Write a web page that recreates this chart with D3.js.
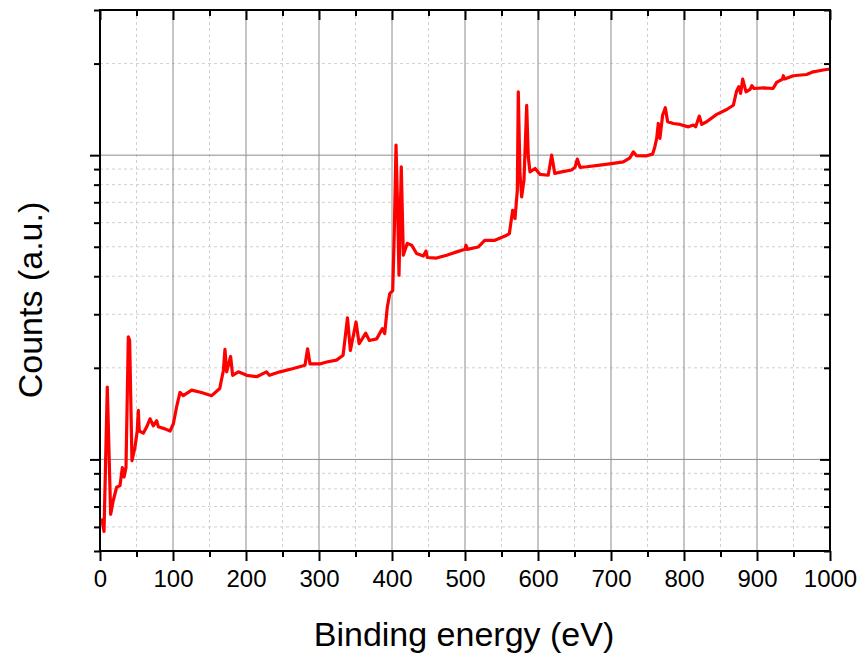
<!DOCTYPE html>
<html>
<head>
<meta charset="utf-8">
<script src="https://cdn.jsdelivr.net/npm/d3@7"></script>
<style>
  html, body { margin: 0; padding: 0; background: #fff; }
  svg { display: block; font-family: Arial, "Liberation Sans", sans-serif; }
</style>
</head>
<body>
<svg id="chart" width="868" height="659"></svg>
<script>
// XPS survey spectrum: binding energy (eV) and counts (arbitrary units)
const energy = [
  2.4, 5.5, 10, 14.6, 18, 22.8, 27.4, 30.6, 33, 35.6, 38.8, 40.6, 43.8, 48, 51, 52.5, 53.8,
  59.3, 64, 68.5, 73, 77.6, 80, 89, 96, 100.5, 105, 109.6, 114, 125.6, 139, 153, 164, 169,
  171.2, 173.5, 178.9, 181.7, 189.5, 201, 214.7, 228, 232, 246.6, 264.8, 280.8, 284.4, 287.7,
  301, 310.5, 324, 333, 339, 343, 350.7, 355, 364, 369, 379, 386.7, 390, 393.6, 397, 401,
  403.2, 405.5, 407.3, 409.6, 412.7, 415.5, 420.9, 426.9, 433.7, 442.9, 446.6, 448.4, 461,
  475, 488.6, 500, 501.4, 503, 518, 527, 541, 554.8, 560.7, 565.3, 568.5, 571.7, 573, 575.3,
  577.6, 580.8, 584.5, 586.7, 589, 596, 602.7, 614, 618.7, 623, 632.4, 646, 650.7, 653.8,
  657.5, 666.7, 685, 703, 716.9, 726, 730.6, 735, 748.9, 757, 760, 762.6, 764.8, 767, 770.8,
  774.4, 777.6, 785.4, 794.5, 806, 812.8, 816, 821, 824.2, 831, 844.8, 858.5, 867.6, 872,
  875, 877.6, 880.4, 885, 890.4, 893, 895.9, 908.7, 922, 926.9, 935, 936, 938, 949.7, 968,
  977, 990.8, 1000
];
const counts = [
  6.4, 5.8, 17.3, 6.6, 7.3, 8.1, 8.2, 9.4, 8.75, 9.4, 25.3, 24.6, 9.9, 11.0, 12.4, 14.5, 12.4,
  12.2, 12.8, 13.6, 12.9, 13.4, 12.8, 12.6, 12.4, 13.1, 14.9, 16.6, 16.2, 16.9, 16.6, 16.2, 17.1, 19.6,
  23.0, 19.4, 21.8, 18.9, 19.4, 18.9, 18.7, 19.4, 18.9, 19.4, 19.9, 20.4, 23.1, 20.6,
  20.6, 20.9, 21.2, 22.0, 29.2, 22.8, 28.3, 24.0, 26.0, 24.6, 24.9, 26.9, 25.9, 31.7, 35.1, 35.9,
  56.6, 107.9, 72.9, 40.3, 91.6, 46.9, 51.3, 50.6, 47.5, 46.6, 48.4, 46.1, 45.9,
  46.9, 48.1, 49.1, 50.6, 49.0, 49.9, 52.5, 52.5, 54.2, 55.2, 65.9, 61.9, 76.7, 161.6, 87.1,
  72.9, 82.8, 145.9, 98.6, 88.1, 90.4, 86.5, 85.9, 100, 87.1, 88.1, 89.4, 91.2, 97.1,
  91.2, 91.6, 92.7, 94.0, 95.1, 98.0, 102.5, 99.6, 99.5, 100.8, 106.4, 113.5, 127.1, 113.5, 135.6,
  143.2, 128.8, 127.1, 126.2, 123.9, 125.6, 123.9, 134.4, 126.2, 128.8, 136.2, 141.3, 145.9, 162.4,
  167.9, 159.6, 177.8, 161.5, 164.4, 169.1, 165.6, 166.3, 165.6, 173.4, 177.8, 182.4, 178, 182.4, 184.1,
  187.9, 190.5, 192
];
const xTicks = [0, 100, 200, 300, 400, 500, 600, 700, 800, 900, 1000];
const xMinor = [50, 150, 250, 350, 450, 550, 650, 750, 850, 950];
const yMajor = [10, 100];
const yMinor = [5, 6, 7, 8, 9, 20, 30, 40, 50, 60, 70, 80, 90, 200, 300];
const xTitle = "Binding energy (eV)";
const yTitle = "Counts (a.u.)";

const svg = d3.select("#chart");
const L = 100, R = 830, T = 10, B = 551;

const x = d3.scaleLinear().domain([0, 1000]).range([L, R]);
const y = d3.scaleLog().domain([5, 300]).range([B, T]);

// grid: dashed minor lines, solid major lines
const grid = svg.append("g");
grid.selectAll(".xmin").data(xMinor).join("line")
  .attr("x1", d => x(d)).attr("x2", d => x(d)).attr("y1", T).attr("y2", B)
  .attr("stroke", "#d0d0d0").attr("stroke-width", 1).attr("stroke-dasharray", "3,3");
grid.selectAll(".ymin").data(yMinor.filter(v => v > 5 && v < 300)).join("line")
  .attr("x1", L).attr("x2", R).attr("y1", d => y(d)).attr("y2", d => y(d))
  .attr("stroke", "#d0d0d0").attr("stroke-width", 1).attr("stroke-dasharray", "3,3");
grid.selectAll(".xmaj").data(xTicks.slice(1, -1)).join("line")
  .attr("x1", d => x(d)).attr("x2", d => x(d)).attr("y1", T).attr("y2", B)
  .attr("stroke", "#8c8c8c").attr("stroke-width", 1);
grid.selectAll(".ymaj").data(yMajor).join("line")
  .attr("x1", L).attr("x2", R).attr("y1", d => y(d)).attr("y2", d => y(d))
  .attr("stroke", "#8c8c8c").attr("stroke-width", 1);

// spectrum
const line = d3.line().x((d, i) => x(energy[i])).y((d, i) => y(counts[i]));
svg.append("path")
  .datum(counts)
  .attr("d", line)
  .attr("fill", "none")
  .attr("stroke", "#ff0000")
  .attr("stroke-width", 3.2)
  .attr("stroke-linejoin", "round");

// axes: outward ticks on bottom/left, inward mirrored ticks on top/right
function addAxis(axisFn, scale, majors, minors, transform, majLen, minLen, labels) {
  const gMaj = svg.append("g").attr("transform", transform)
    .call(axisFn(scale).tickValues(majors).tickSize(majLen).tickSizeOuter(0)
      .tickFormat(labels ? d3.format("d") : () => ""));
  const gMin = svg.append("g").attr("transform", transform)
    .call(axisFn(scale).tickValues(minors).tickSize(minLen).tickSizeOuter(0).tickFormat(() => ""));
  [gMaj, gMin].forEach(g => {
    g.select(".domain").remove();
    g.selectAll(".tick line").attr("stroke", "#000").attr("stroke-width", 2);
  });
  return gMaj;
}
const gx = addAxis(d3.axisBottom, x, xTicks, xMinor, `translate(0,${B})`, 10, 6, true);
gx.selectAll(".tick text").attr("font-size", 24).attr("fill", "#000").attr("dy", "0.95em")
  .attr("font-family", "Arial, 'Liberation Sans', sans-serif");
addAxis(d3.axisTop, x, xTicks, xMinor, `translate(0,${T})`, -10, -6, false);
addAxis(d3.axisLeft, y, yMajor, yMinor, `translate(${L},0)`, 10, 6, false);
addAxis(d3.axisRight, y, yMajor, yMinor, `translate(${R},0)`, -10, -6, false);

// frame
svg.append("rect").attr("x", L).attr("y", T).attr("width", R - L).attr("height", B - T)
  .attr("fill", "none").attr("stroke", "#000").attr("stroke-width", 2);

// titles
svg.append("text").attr("x", 464).attr("y", 646)
  .attr("text-anchor", "middle").attr("font-size", 34).attr("fill", "#000").text(xTitle);
svg.append("text").attr("transform", "translate(42,300) rotate(-90)")
  .attr("text-anchor", "middle").attr("font-size", 34).attr("fill", "#000").text(yTitle);
</script>
</body>
</html>
